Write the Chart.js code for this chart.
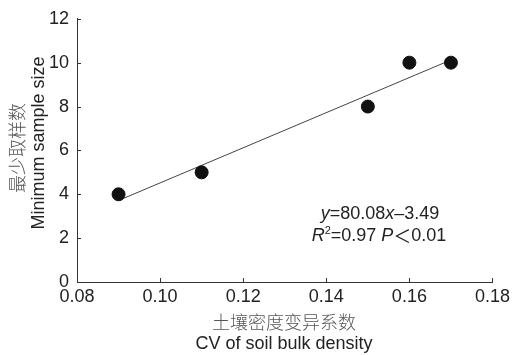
<!DOCTYPE html>
<html><head><meta charset="utf-8">
<script src="https://cdn.jsdelivr.net/npm/chart.js@4"></script>
<style>html,body{margin:0;padding:0;background:#fff}#wrap{width:514px;height:355px}</style>
</head><body><div id="wrap"><canvas id="c" width="514" height="355"></canvas></div>
<script>
const cvValues = [0.09, 0.11, 0.15, 0.16, 0.17];
const minSampleSize = [4, 5, 8, 10, 10];
const fitSlope = 80.08, fitIntercept = -3.49;
const fitX = [0.09, 0.17];
const xTicks = [0.08, 0.10, 0.12, 0.14, 0.16, 0.18];
const yTicks = [0, 2, 4, 6, 8, 10, 12];
const xTitleZh = '土壤密度变异系数', xTitleEn = 'CV of soil bulk density';
const yTitleZh = '最少取样数', yTitleEn = 'Minimum sample size';

const FONT = '"Liberation Sans", Arial, sans-serif';
const ZH = '"Noto Sans CJK SC", sans-serif';
const L = 77, R = 493, T = 15, B = 282;

const extras = {
  id: 'extras',
  afterDraw(chart) {
    const ctx = chart.ctx, xs = chart.scales.x, ys = chart.scales.y;
    ctx.save();
    ctx.strokeStyle = '#333'; ctx.lineWidth = 1;
    ctx.beginPath();
    xTicks.forEach(v => { const p = Math.round(xs.getPixelForValue(v)) + 0.5; ctx.moveTo(p, ys.bottom); ctx.lineTo(p, ys.bottom - 4); });
    yTicks.forEach(v => { const p = Math.round(ys.getPixelForValue(v)) + 0.5; ctx.moveTo(xs.left, p); ctx.lineTo(xs.left + 4, p); });
    ctx.stroke();
    // axis titles
    ctx.textAlign = 'center'; ctx.textBaseline = 'middle';
    ctx.fillStyle = '#555'; ctx.font = '300 18px ' + ZH;
    ctx.fillText(xTitleZh, 284, 322);
    ctx.fillStyle = '#222'; ctx.font = '18px ' + FONT;
    ctx.fillText(xTitleEn, 284, 344);
    ctx.save(); ctx.translate(17, 148); ctx.rotate(-Math.PI/2);
    ctx.fillStyle = '#555'; ctx.font = '300 18px ' + ZH; ctx.fillText(yTitleZh, 0, 0); ctx.restore();
    ctx.save(); ctx.translate(39, 143); ctx.rotate(-Math.PI/2);
    ctx.fillStyle = '#222'; ctx.font = '18px ' + FONT; ctx.fillText(yTitleEn, 0, 0); ctx.restore();
    // equation
    const drawRuns = (runs, cx, cy) => {
      let w = 0;
      runs.forEach(r => { ctx.font = r.f; w += ctx.measureText(r.t).width + (r.dx||0); });
      let x = cx - w/2;
      ctx.textAlign = 'left';
      runs.forEach(r => { ctx.font = r.f; ctx.fillText(r.t, x, cy + (r.dy||0)); x += ctx.measureText(r.t).width + (r.dx||0); });
    };
    const N = '18px ' + FONT, I = 'italic 18px ' + FONT, S = '11px ' + FONT, Z = '18px ' + ZH;
    ctx.fillStyle = '#222'; ctx.textBaseline = 'middle';
    drawRuns([{t:'y',f:I},{t:'=' + fitSlope.toFixed(2),f:N},{t:'x',f:I},{t:'–' + Math.abs(fitIntercept).toFixed(2),f:N}], 380, 214);
    drawRuns([{t:'R',f:I},{t:'2',f:S,dy:-5},{t:'=0.97 ',f:N},{t:'P',f:I},{t:'＜',f:Z},{t:'0.01',f:N}], 379, 236);
    ctx.restore();
  }
};

new Chart(document.getElementById('c'), {
  type: 'scatter',
  data: {
    datasets: [
      { data: cvValues.map((x, i) => ({x, y: minSampleSize[i]})), backgroundColor: '#111', borderColor: '#111', pointRadius: 6.5, pointHoverRadius: 6.5, order: 0 },
      { type: 'line', data: fitX.map(x => ({x, y: fitSlope * x + fitIntercept})), borderColor: '#444', borderWidth: 1, pointRadius: 0, fill: false, order: 1 }
    ]
  },
  options: {
    responsive: false, animation: false, devicePixelRatio: 1,
    layout: { padding: { left: 0, right: 514 - R, top: T, bottom: 0 } },
    plugins: { legend: { display: false }, tooltip: { enabled: false } },
    scales: {
      x: {
        type: 'linear', min: 0.08, max: 0.18,
        afterBuildTicks: s => { s.ticks = xTicks.map(v => ({value: v})); },
        afterFit: s => { s.height = 355 - B; },
        grid: { drawOnChartArea: false, drawTicks: false },
        border: { color: '#333', width: 1 },
        ticks: { color: '#222', font: { family: FONT, size: 18 }, padding: 4, maxRotation: 0, callback: v => v.toFixed(2) }
      },
      y: {
        min: 0, max: 12,
        afterBuildTicks: s => { s.ticks = yTicks.map(v => ({value: v})); },
        afterFit: s => { s.width = L; },
        grid: { drawOnChartArea: false, drawTicks: false },
        border: { color: '#333', width: 1 },
        ticks: { color: '#222', font: { family: FONT, size: 18 }, padding: 8, callback: v => String(v) }
      }
    }
  },
  plugins: [extras]
});
</script></body></html>
